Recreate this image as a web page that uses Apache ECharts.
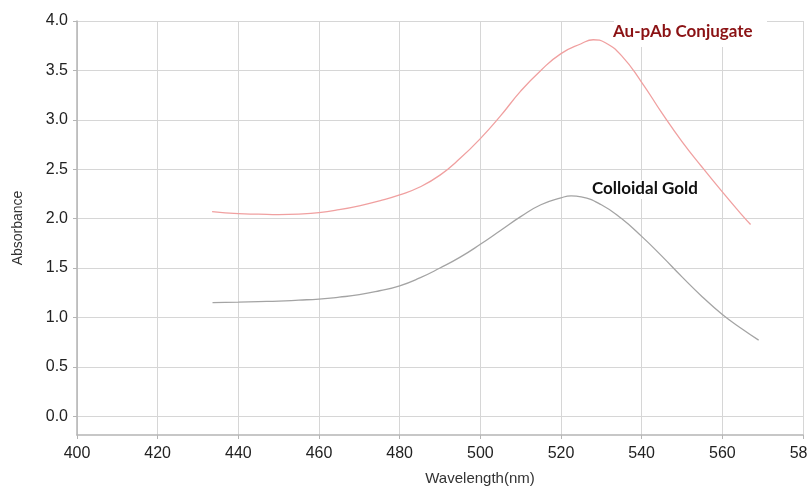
<!DOCTYPE html>
<html><head><meta charset="utf-8">
<script src="https://cdn.jsdelivr.net/npm/echarts@6/dist/echarts.min.js"></script>
<style>html,body{margin:0;padding:0;background:#fff}#c{width:807px;height:489px}</style>
</head><body><div id="c"></div>
<script>
const conjWl = [433.5,440,445,450,455,460,465,470,475,480,485,490,495,500,505,510,515,520,525,528,531,535,540,545,550,555,560,565,567];
const conjAbs = [2.07,2.05,2.045,2.04,2.045,2.06,2.09,2.13,2.18,2.24,2.32,2.44,2.61,2.81,3.04,3.29,3.50,3.67,3.77,3.81,3.78,3.65,3.38,3.07,2.78,2.52,2.27,2.03,1.94];
const goldWl = [433.6,440,445,450,455,460,465,470,475,480,485,490,495,500,505,510,515,520,522.5,525,530,535,540,545,550,555,560,565,569];
const goldAbs = [1.15,1.155,1.16,1.165,1.175,1.186,1.205,1.23,1.27,1.32,1.40,1.50,1.61,1.74,1.88,2.02,2.14,2.21,2.23,2.22,2.14,2.00,1.82,1.62,1.41,1.21,1.03,0.88,0.77];
const yTicks = [0,0.5,1,1.5,2,2.5,3,3.5,4];
const labelConj = 'Au-pAb Conjugate';
const labelGold = 'Colloidal Gold';

const chart = echarts.init(document.getElementById('c'));
const pair = (xs, ys) => xs.map((x, i) => [x, ys[i]]);
chart.setOption({
  animation: false,
  grid: {left: 77, right: 4, top: 21, bottom: 54, containLabel: false, outerBoundsMode: 'none'},
  xAxis: {
    type: 'value', min: 400, max: 580, interval: 20,
    name: 'Wavelength(nm)', nameLocation: 'middle', nameGap: 36,
    nameTextStyle: {fontFamily: 'Liberation Sans', fontSize: 15, color: '#333', padding: [0, 0, 0, 80]},
    axisLine: {show: true, onZero: false, lineStyle: {color: '#b5b5b5', width: 1.5}},
    axisTick: {show: true, length: 4, lineStyle: {color: '#b5b5b5'}},
    axisLabel: {fontFamily: 'Liberation Sans', fontSize: 16, color: '#222', margin: 11},
    splitLine: {show: true, lineStyle: {color: '#d6d6d6', width: 1}}
  },
  yAxis: {
    type: 'value', min: -0.19, max: 4,
    name: 'Absorbance', nameLocation: 'middle', nameGap: 52,
    nameTextStyle: {fontFamily: 'Liberation Sans', fontSize: 14, color: '#333'},
    axisLine: {show: true, lineStyle: {color: '#b5b5b5', width: 1.5}},
    axisTick: {show: true, length: 4, customValues: yTicks, lineStyle: {color: '#b5b5b5'}},
    axisLabel: {fontFamily: 'Liberation Sans', fontSize: 16, color: '#222', margin: 9,
      customValues: yTicks, formatter: v => v.toFixed(1)},
    splitLine: {show: true, lineStyle: {color: '#d6d6d6', width: 1}}
  },
  series: [
    {type: 'line', data: pair(conjWl, conjAbs), smooth: 0.5, symbol: 'none', z: 5,
     lineStyle: {color: '#f0a0a0', width: 1.3}},
    {type: 'line', data: pair(goldWl, goldAbs), smooth: 0.5, symbol: 'none', z: 5,
     lineStyle: {color: '#a4a4a4', width: 1.3}}
  ],
  graphic: [
    {type: 'rect', shape: {x: 614, y: 20, width: 153, height: 27}, style: {fill: '#fff'}, z: 1},
    {type: 'text', x: 613, y: 23, z: 51, style: {text: labelConj, fill: '#8b1214',
      font: 'bold 17px Lato'}},
    {type: 'rect', shape: {x: 591, y: 180, width: 113, height: 19}, style: {fill: '#fff'}, z: 1},
    {type: 'text', x: 592, y: 180, z: 51, style: {text: labelGold, fill: '#111',
      font: 'bold 17px Lato'}}
  ]
});
</script></body></html>
